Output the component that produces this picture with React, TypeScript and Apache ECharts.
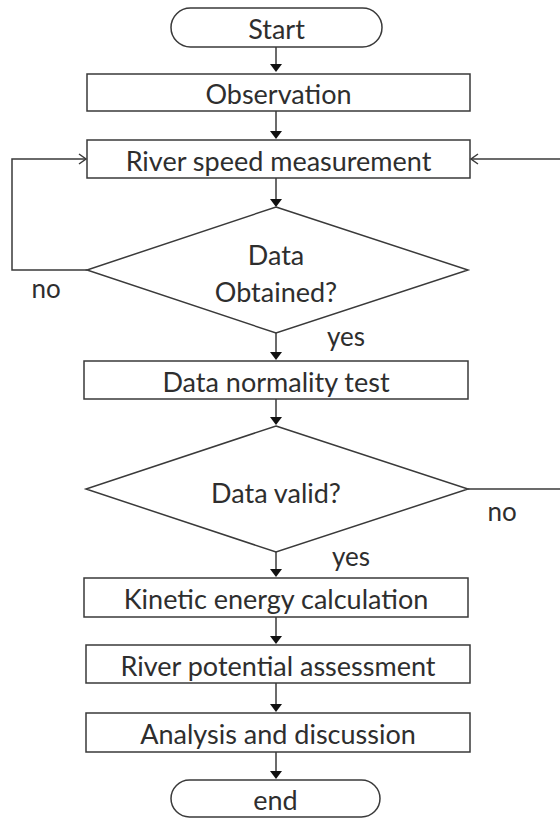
import React, { useEffect, useRef } from "react";
import * as echarts from "echarts";

const terminalLabels = ["Start", "end"];
const processLabels = [
  "Observation",
  "River speed measurement",
  "Data normality test",
  "Kinetic energy calculation",
  "River potential assessment",
  "Analysis and discussion",
];
const decisionLabels = ["Data\nObtained?", "Data valid?"];
const yesLabel = "yes";
const noLabel = "no";

const LINE = "#3a3a3a";
const TEXT = "#2e2e2e";
const FONT = "Lato";
const FS = 27;

function arrowDown(x: number, y1: number, y2: number): any[] {
  return [
    { type: "line", shape: { x1: x, y1, x2: x, y2: y2 - 6 }, style: { stroke: LINE, lineWidth: 1.5 } },
    {
      type: "polygon",
      shape: { points: [[x - 6, y2 - 8], [x + 6, y2 - 8], [x, y2]] },
      style: { fill: "#111" },
    },
  ];
}

function openArrow(x: number, y: number, dir: number): any {
  return {
    type: "polyline",
    shape: { points: [[x - dir * 7, y - 5], [x, y], [x - dir * 7, y + 5]] },
    style: { stroke: LINE, lineWidth: 1.5, fill: null },
  };
}

function label(text: string, x: number, y: number, size = FS): any {
  return {
    type: "text",
    x,
    y,
    style: {
      text,
      fill: TEXT,
      font: `${size}px ${FONT}`,
      align: "center",
      verticalAlign: "middle",
      lineHeight: 37,
    },
  };
}

function box(x1: number, y1: number, x2: number, y2: number, text: string, round = false): any[] {
  const h = y2 - y1;
  return [
    {
      type: "rect",
      shape: { x: x1, y: y1, width: x2 - x1, height: h, r: round ? h / 2 : 0 },
      style: { fill: "#fff", stroke: LINE, lineWidth: 1.5 },
    },
    label(text, (x1 + x2) / 2, (y1 + y2) / 2 + 1),
  ];
}

function diamond(cx: number, top: number, left: number, right: number, bottom: number, text: string): any[] {
  const cy = (top + bottom) / 2;
  return [
    {
      type: "polygon",
      shape: { points: [[cx, top], [right, cy], [cx, bottom], [left, cy]] },
      style: { fill: "#fff", stroke: LINE, lineWidth: 1.5 },
    },
    label(text, cx, cy + 3),
  ];
}

export default function App() {
  const ref = useRef<HTMLDivElement>(null);
  useEffect(() => {
    const chart = echarts.init(ref.current!, null, { renderer: "svg" });
    const cx = 276;
    const els: any[] = [];
    els.push(...box(171, 8, 382, 47, terminalLabels[0], true));
    els.push(...arrowDown(cx, 47, 72));
    els.push(...box(87, 74, 470, 111, processLabels[0]));
    els.push(...arrowDown(cx, 111, 139));
    els.push(...box(87, 140, 470, 178, processLabels[1]));
    els.push(...arrowDown(cx, 178, 207));
    els.push(...diamond(cx, 207, 87, 468, 333, decisionLabels[0]));
    els.push({
      type: "polyline",
      shape: { points: [[87, 270], [12, 270], [12, 159], [86, 159]] },
      style: { stroke: LINE, lineWidth: 1.5, fill: null },
    });
    els.push(openArrow(86, 159, 1));
    els.push(label(noLabel, 46, 288, 26));
    els.push(label(yesLabel, 346, 336, 26));
    els.push(...arrowDown(cx, 333, 360));
    els.push(...box(84, 361, 468, 399, processLabels[2]));
    els.push(...arrowDown(cx, 399, 425));
    els.push(...diamond(cx, 426, 86, 468, 552, decisionLabels[1]));
    els.push({
      type: "line",
      shape: { x1: 468, y1: 489, x2: 560, y2: 489 },
      style: { stroke: LINE, lineWidth: 1.5 },
    });
    els.push({
      type: "line",
      shape: { x1: 471, y1: 159, x2: 560, y2: 159 },
      style: { stroke: LINE, lineWidth: 1.5 },
    });
    els.push(openArrow(471, 159, -1));
    els.push(label(noLabel, 502, 511, 26));
    els.push(label(yesLabel, 351, 556, 26));
    els.push(...arrowDown(cx, 552, 577));
    els.push(...box(84, 578, 468, 617, processLabels[3]));
    els.push(...arrowDown(cx, 617, 644));
    els.push(...box(86, 645, 470, 683, processLabels[4]));
    els.push(...arrowDown(cx, 683, 712));
    els.push(...box(86, 713, 470, 752, processLabels[5]));
    els.push(...arrowDown(cx, 752, 779));
    els.push(...box(171, 780, 380, 817, terminalLabels[1], true));

    chart.setOption({
      animation: false,
      backgroundColor: "#ffffff",
      graphic: { elements: els },
    });
    return () => chart.dispose();
  }, []);
  return (
    <div
      ref={ref}
      style={{ position: "fixed", left: 0, top: 0, width: 560, height: 819 }}
    />
  );
}
